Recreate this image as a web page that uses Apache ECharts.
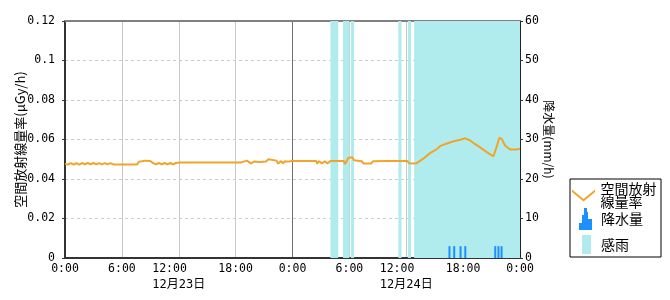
<!DOCTYPE html>
<html><head><meta charset="utf-8">
<script src="https://cdn.jsdelivr.net/npm/echarts@6/dist/echarts.min.js"></script>
<style>html,body{margin:0;padding:0;background:#fff}#c{width:670px;height:300px}</style>
</head><body><div id="c"></div>
<script>
// hours counted from 12/23 0:00
const xTickHours = [0, 6, 12, 18, 24, 30, 36, 42, 48];
const xTickTimes = ['0:00', '6:00', '12:00', '18:00', '0:00', '6:00', '12:00', '18:00', '0:00'];
const xTickDates = ['', '', '12月23日', '', '', '', '12月24日', '', ''];

const doseHours = [
  0.0, 0.3, 0.6, 0.9, 1.2, 1.5, 1.8, 2.1, 2.4, 2.7, 3.0, 3.3, 3.6, 3.9, 4.2, 4.5, 4.8, 5.1, 5.4,
  6.6, 6.7, 6.8, 7.6, 7.8, 8.0, 8.5, 9.0, 9.3, 9.6, 9.9, 10.2, 10.5, 10.8, 11.1, 11.4, 11.7, 12.1,
  14.7, 14.8, 14.9, 18.6, 18.8, 19.2, 19.4, 19.6, 19.8, 20.0, 20.2, 20.5, 21.2, 21.45, 21.6, 22.3,
  22.5, 22.8, 23.0, 23.2, 23.4, 23.6, 23.9, 26.5, 26.6, 26.8, 27.1, 27.4, 27.7, 28.0, 29.4, 29.55,
  29.7, 29.9, 30.1, 30.3, 30.5, 30.7, 31.3, 31.5, 32.3, 32.5, 33.9, 34.1, 34.3, 36.1, 36.3, 36.5,
  36.7, 36.9, 37.1, 37.8, 38.5, 39.2, 39.6, 40.3, 40.9, 41.7, 42.2, 42.7, 43.1, 43.8, 44.5, 45.2,
  45.36, 45.55, 45.82, 46.07, 46.42, 46.95, 47.65, 48.0
];
const doseValues = [
  0.0478, 0.0473, 0.0481, 0.0473, 0.0481, 0.0473, 0.0481, 0.0474, 0.0481, 0.0474, 0.0481, 0.0474, 0.0480, 0.0474, 0.0480, 0.0474, 0.0480, 0.0474, 0.0474,
  0.0474, 0.0479, 0.0474, 0.0474, 0.0487, 0.0491, 0.0493, 0.0491, 0.0480, 0.0474, 0.0481, 0.0474, 0.0481, 0.0474, 0.0481, 0.0474, 0.0481, 0.0484,
  0.0484, 0.0477, 0.0484, 0.0484, 0.0493, 0.0493, 0.0484, 0.0479, 0.0484, 0.0489, 0.0487, 0.0486, 0.0488, 0.0500, 0.0493, 0.0493,
  0.0478, 0.0491, 0.0479, 0.0490, 0.0480, 0.0488, 0.0491, 0.0491, 0.0478, 0.0490, 0.0479, 0.0490, 0.0479, 0.0491, 0.0491, 0.0476,
  0.0490, 0.0508, 0.0500, 0.0510, 0.0495, 0.0488, 0.0490, 0.0478, 0.0478, 0.0490, 0.0491, 0.0500, 0.0491, 0.0491, 0.0480, 0.0488,
  0.0479, 0.0486, 0.0480, 0.0503, 0.0531, 0.0550, 0.0568, 0.0580, 0.0590, 0.0599, 0.0606, 0.0596, 0.0582, 0.0560, 0.0536, 0.0515,
  0.0511, 0.0565, 0.0609, 0.0603, 0.0570, 0.0549, 0.0549, 0.0553
];

const rainHours = [40.5, 41.0, 41.67, 42.17, 45.33, 45.67, 46.0];
const rainValues = [3, 3, 3, 3, 3, 3, 3];

const wetStart = [28.0, 29.33, 30.17, 35.17, 36.17, 36.83];
const wetEnd   = [28.83, 30.0, 30.5, 35.5, 36.5, 48.0];

const doseTicks = [0, 0.02, 0.04, 0.06, 0.08, 0.1, 0.12];
const rainTicks = [0, 10, 20, 30, 40, 50, 60];

const NAME_DOSE = '空間放射線量率';
const NAME_RAIN = '降水量';
const NAME_WET = '感雨';

const C_DOSE = '#F0A52A';
const C_RAIN = '#1E8FFF';
const C_WET = '#B0ECEE';

const numFont = "'DejaVu Sans Mono','Noto Sans CJK JP',monospace";
const jpFont = "'Noto Sans CJK JP',sans-serif";

const chart = echarts.init(document.getElementById('c'), null, {renderer: 'canvas'});

const option = {
  animation: false,
  backgroundColor: '#fff',
  grid: {left: 65, top: 21, width: 455, height: 237},
  xAxis: [{
    type: 'value', min: 0, max: 48, interval: 6, position: 'bottom',
    axisLine: {show: true, onZero: false, lineStyle: {color: '#333', width: 2}},
    axisTick: {show: false},
    axisLabel: {
      margin: 4, color: '#000', fontFamily: numFont, fontSize: 11.5, lineHeight: 15,
      formatter: v => {
        const i = xTickHours.indexOf(v);
        if (i < 0) return '';
        return xTickDates[i] ? '{t|' + xTickTimes[i] + '}\n{d|' + xTickDates[i] + '}' : xTickTimes[i];
      },
      rich: {
        t: {width: 53, align: 'left', fontFamily: numFont, fontSize: 11.5, lineHeight: 15, color: '#000'},
        d: {width: 53, align: 'left', fontFamily: numFont, fontSize: 12, lineHeight: 15, color: '#000'}
      }
    },
    splitLine: {show: true, lineStyle: {type: 'solid', width: 1,
      color: ['#c8c8c8', '#c8c8c8', '#c8c8c8', '#c8c8c8', '#707070', '#c8c8c8', '#c8c8c8', '#c8c8c8', '#c8c8c8']}}
  }, {
    type: 'value', min: 0, max: 48, interval: 6, position: 'top',
    axisLine: {show: true, onZero: false, lineStyle: {color: '#808080', width: 2}},
    axisTick: {show: false}, axisLabel: {show: false}, splitLine: {show: false}
  }],
  yAxis: [{
    type: 'value', min: 0, max: 0.12, interval: 0.02, position: 'left',
    name: '空間放射線量率(μGy/h)', nameLocation: 'middle', nameGap: 38, nameRotate: 90,
    nameMoveOverlap: false,
    nameTextStyle: {fontFamily: jpFont, fontSize: 13, color: '#000'},
    axisLine: {show: true, onZero: false, lineStyle: {color: '#333', width: 2}},
    axisTick: {show: true, length: 3, lineStyle: {color: '#333'}},
    axisLabel: {margin: 10, color: '#000', fontFamily: numFont, fontSize: 11.5,
      formatter: v => { const i = doseTicks.findIndex(t => Math.abs(t - v) < 1e-9); return i >= 0 ? String(doseTicks[i]) : ''; }},
    splitLine: {show: true, showMaxLine: false, lineStyle: {type: [3, 3], color: '#cccccc', width: 1}}
  }, {
    type: 'value', min: 0, max: 60, interval: 10, position: 'right',
    name: '降水量(mm/h)', nameLocation: 'middle', nameGap: 23, nameRotate: -90,
    nameMoveOverlap: false,
    nameTextStyle: {fontFamily: jpFont, fontSize: 12, color: '#000'},
    axisLine: {show: true, onZero: false, lineStyle: {color: '#222', width: 2}},
    axisTick: {show: true, length: 3, lineStyle: {color: '#333'}},
    axisLabel: {margin: 5, color: '#000', fontFamily: numFont, fontSize: 11.5,
      formatter: v => { const i = rainTicks.indexOf(v); return i >= 0 ? String(rainTicks[i]) : ''; }},
    splitLine: {show: false}
  }],
  legend: [{
    data: [{name: NAME_DOSE, icon: 'path://M0,0 L12,10 L24,0 L24,2.5 L12,12.5 L0,2.5 Z'}],
    left: 572, top: 182, padding: 0, itemWidth: 24, itemHeight: 12, z: 10,
    selectedMode: false,
    formatter: () => '空間放射\n線量率',
    textStyle: {fontFamily: jpFont, fontSize: 14, lineHeight: 13, color: '#000'}
  }, {
    data: [{name: NAME_RAIN, icon: 'path://M5,0 H8 V4 H9 V11 H13 V22 H0 V15 H3 V7 H5 Z'}],
    left: 579, top: 208, padding: 0, itemWidth: 13, itemHeight: 22, z: 10,
    selectedMode: false,
    textStyle: {fontFamily: jpFont, fontSize: 14, color: '#000', padding: [0, 0, 0, 4]}
  }, {
    data: [{name: NAME_WET, icon: 'rect'}],
    left: 582, top: 235, padding: 0, itemWidth: 9, itemHeight: 19, z: 10,
    selectedMode: false,
    textStyle: {fontFamily: jpFont, fontSize: 14, color: '#000', padding: [0, 0, 0, 5]}
  }],
  graphic: [{
    type: 'rect', left: 569.5, top: 178.5, z: 5,
    shape: {width: 91, height: 78},
    style: {fill: '#fff', stroke: '#000', lineWidth: 1}
  }],
  series: [{
    name: NAME_WET, type: 'bar', yAxisIndex: 1, data: [], z: -1,
    itemStyle: {color: C_WET},
    markArea: {
      silent: true,
      itemStyle: {color: C_WET, opacity: 1},
      data: wetStart.map((s, i) => [{xAxis: s}, {xAxis: wetEnd[i]}])
    }
  }, {
    name: NAME_DOSE, type: 'line', yAxisIndex: 0, z: 3,
    data: doseHours.map((h, i) => [h, doseValues[i]]),
    showSymbol: false, symbol: 'none',
    lineStyle: {color: C_DOSE, width: 2},
    itemStyle: {color: C_DOSE}
  }, {
    name: NAME_RAIN, type: 'bar', yAxisIndex: 1, z: 4,
    data: rainHours.map((h, i) => [h, rainValues[i]]),
    barWidth: 2,
    itemStyle: {color: C_RAIN}
  }]
};
chart.setOption(option);
</script>
</body></html>
